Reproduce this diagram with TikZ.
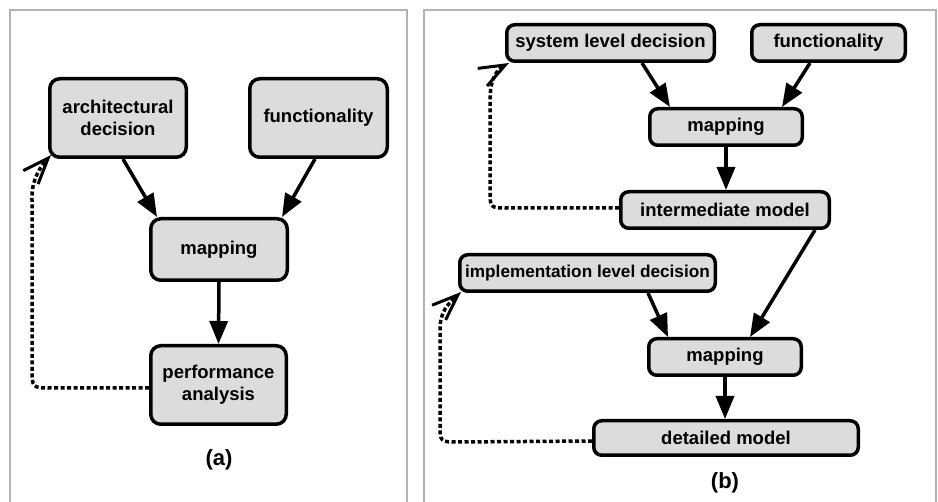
\documentclass[tikz,border=0pt]{standalone}
\usepackage{fontspec}
\setmainfont{Liberation Sans}
\usetikzlibrary{arrows.meta}
\definecolor{boxgray}{HTML}{DCDCDC}
\definecolor{framegray}{HTML}{B4B4B4}
\tikzset{
  box/.style={draw, line width=3.5pt, fill=boxgray, rounded corners=10pt,
    inner sep=0pt, align=center, font=\fontsize{18.5}{22}\selectfont\bfseries},
  flatbox/.style={box, rounded corners=8pt},
  flow/.style={line width=3.5pt, -{Triangle[length=23pt,width=18pt]}},
  feedback/.style={line width=3.5pt, dash pattern=on 4pt off 2.5pt,
    -{Straight Barb[length=26pt,width=20pt,line width=3pt]}},
  frame/.style={draw=framegray, line width=2pt},
  caption/.style={font=\fontsize{22}{26}\selectfont\bfseries}
}
\begin{document}
\begin{tikzpicture}[x=1pt, y=-1pt]
\useasboundingbox (0,0) rectangle (938,502);

% panel frames
\draw[frame] (10,502) -- (10,10) -- (407,10) -- (407,502);
\draw[frame] (424,502) -- (424,10) -- (936,10) -- (936,502);

% ---- panel (a)
\node[box, minimum width=136.5pt, minimum height=78.5pt] (arch) at (118,118) {architectural\\decision};
\node[box, minimum width=137.5pt, minimum height=78.5pt] (funcA) at (318.5,118) {functionality};
\node[box, minimum width=136.5pt, minimum height=61.5pt] (mapA) at (219,249.5) {mapping};
\node[box, minimum width=135.5pt, minimum height=78.5pt] (perf) at (218.5,385) {performance\\analysis};
\node[caption] (capA) at (219,460) {(a)};

\draw[flow] ([xshift=5pt]arch.south) -- ([xshift=8pt]mapA.north west);
\draw[flow] ([xshift=-3.5pt]funcA.south) -- ([xshift=-7pt]mapA.north east);
\draw[flow] (mapA.south) -- (perf.north);
\draw[feedback] ([yshift=-3pt]perf.west) -- (52,388) .. controls (32,388) .. (32,368)
  -- (32,200) .. controls (31,180) and (41,166) .. ([shift={(3pt,4pt)}]arch.south west);

% ---- panel (b)
\node[flatbox, minimum width=207.5pt, minimum height=36.5pt] (sld) at (610.5,43) {system level decision};
\node[flatbox, minimum width=153.5pt, minimum height=36.5pt] (funcB) at (828.5,43) {functionality};
\node[flatbox, minimum width=152.5pt, minimum height=36.5pt] (mapB1) at (726,127) {mapping};
\node[flatbox, minimum width=208.5pt, minimum height=36.5pt] (inter) at (725,210) {intermediate model};
\node[flatbox, minimum width=255.5pt, minimum height=36.5pt,
  font=\fontsize{17.2}{22}\selectfont\bfseries] (impl) at (587.5,273) {implementation level decision};
\node[flatbox, minimum width=152.5pt, minimum height=36.5pt] (mapB2) at (725,357) {mapping};
\node[flatbox, minimum width=264.5pt, minimum height=34.5pt] (det) at (726,438) {detailed model};
\node[caption] (capB) at (725,483) {(b)};

\draw[flow] ([xshift=31.5pt]sld.south) -- ([xshift=22pt]mapB1.north west);
\draw[flow] ([xshift=-18.5pt]funcB.south) -- ([xshift=-22pt]mapB1.north east);
\draw[flow] (mapB1.south) -- (mapB1.south |- inter.north);
\draw[flow] ([xshift=-16pt]inter.south east) -- ([xshift=25pt]mapB2.north);
\draw[flow] ([xshift=60.5pt]impl.south) -- ([xshift=21pt]mapB2.north west);
\draw[flow] (mapB2.south) -- (mapB2.south |- det.north);

\draw[feedback] ([yshift=2pt]inter.west) -- (508,208) .. controls (490,208) .. (490,190)
  -- (490,100) .. controls (490,84) and (494,71) .. ([shift={(4pt,0pt)}]sld.south west);
\draw[feedback] ([yshift=-3pt]det.west) -- (458,442) .. controls (440,442) .. (440,424)
  -- (440,330) .. controls (440,312) and (447,305) .. ([shift={(3pt,1pt)}]impl.south west);
\end{tikzpicture}
\end{document}
